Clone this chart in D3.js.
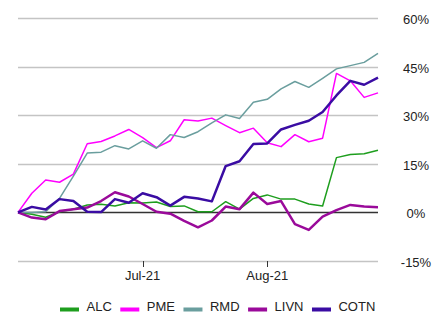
<!DOCTYPE html>
<html>
<head>
<meta charset="utf-8">
<script src="https://cdn.jsdelivr.net/npm/d3@7"></script>
<style>
	body {margin:0; background:#fff}
	svg {display:block; font-family:"Liberation Sans", Arial, sans-serif}
</style>
</head>
<body>
<svg width="448" height="313"></svg>
<script>
/*** Data ***/
var dates = [
	"2021-06-01","2021-06-04","2021-06-08","2021-06-11","2021-06-15","2021-06-18","2021-06-22","2021-06-25","2021-06-29",
	"2021-07-02","2021-07-06","2021-07-09","2021-07-13","2021-07-16","2021-07-20","2021-07-23","2021-07-27","2021-07-30",
	"2021-08-03","2021-08-06","2021-08-10","2021-08-13","2021-08-17","2021-08-20","2021-08-24","2021-08-27","2021-08-31"
]
var names  = ["ALC", "PME", "RMD", "LIVN", "COTN"]
var ALC  = [0, -0.6, -1.5, 0.2, 1.0, 2.3, 2.5, 2.0, 3.0, 2.9, 3.2, 1.8, 2.0, 0.2, 0.2, 3.3, 1.0, 4.3, 5.4, 4.1, 4.1, 2.6, 2.0, 16.9, 17.9, 18.1, 19.2]
var PME  = [0, 5.9, 10.0, 9.3, 11.8, 21.2, 21.9, 23.6, 25.6, 23.1, 20.0, 22.1, 28.6, 28.2, 29.1, 26.8, 24.6, 26.0, 21.5, 20.3, 24.0, 21.8, 22.9, 42.9, 40.6, 35.5, 36.9]
var RMD  = [0, 0, 0.2, 4.3, 11.2, 18.3, 18.6, 20.6, 19.6, 22.1, 19.8, 24.0, 23.1, 24.9, 27.6, 30.1, 29.0, 34.0, 34.9, 38.1, 40.4, 38.6, 41.4, 44.3, 45.3, 46.3, 49.1]
var LIVN = [0, -1.6, -2.1, 0.4, 1.0, 1.5, 3.5, 6.2, 4.9, 2.6, 0.2, -0.4, -2.6, -4.6, -2.5, 1.8, 1.0, 6.1, 2.6, 3.5, -3.6, -5.4, -1.3, 0.7, 2.3, 1.8, 1.6]
var COTN = [0, 1.7, 0.9, 4.1, 3.5, 0.2, 0.1, 4.1, 3.0, 5.9, 4.7, 2.1, 4.8, 4.3, 3.4, 14.3, 15.8, 21.1, 21.3, 25.6, 27.0, 28.3, 31.0, 36.1, 40.6, 39.4, 41.6]
var colors = ["#1e9e1e", "#ff00ff", "#6a9e9e", "#9a0a9a", "#3a0ca3"]
var widths = [1.5, 1.5, 1.5, 2.5, 2.5]
var yTicks = [-15, 0, 15, 30, 45, 60]

var series = [ALC, PME, RMD, LIVN, COTN]

/*** Setup ***/
var svg = d3.select("svg")
var parse = d3.timeParse("%Y-%m-%d")
var days = dates.map(parse)

var x = d3.scalePoint().domain(d3.range(days.length)).range([18, 378])
var y = d3.scaleLinear().domain([-15, 60]).range([261, 18])

// first data point of each month gets a tick
var monthTicks = d3.range(days.length).filter((i) => i > 0 && days[i].getMonth() != days[i-1].getMonth())

svg.append("g")
	.selectAll("line")
	.data(yTicks.filter((t) => t != 0))
	.enter()
	.append("line")
	.attr("x1", 18).attr("x2", 378)
	.attr("y1", (d) => Math.round(y(d)) + .5)
	.attr("y2", (d) => Math.round(y(d)) + .5)
	.attr("stroke", "#c4c4c4")
	.attr("stroke-width", 1.5)

svg.append("line")
	.attr("x1", 18).attr("x2", 378)
	.attr("y1", y(0)).attr("y2", y(0))
	.attr("stroke", "#333")
	.attr("stroke-width", 1.5)

svg.append("g")
	.selectAll("text")
	.data(yTicks)
	.enter()
	.append("text")
	.attr("x", 416)
	.attr("y", (d) => y(d) + 6)
	.attr("text-anchor", "middle")
	.attr("font-size", 13)
	.attr("fill", "#222")
	.text((d) => d + "%")

var xa = svg.append("g").attr("transform", "translate(0,261)")
xa.selectAll("line")
	.data(monthTicks)
	.enter()
	.append("line")
	.attr("x1", (d) => Math.round(x(d)) + .5)
	.attr("x2", (d) => Math.round(x(d)) + .5)
	.attr("y1", 0).attr("y2", 6)
	.attr("stroke", "#333")
xa.selectAll("text")
	.data(monthTicks)
	.enter()
	.append("text")
	.attr("x", (d) => x(d))
	.attr("y", 19)
	.attr("text-anchor", "middle")
	.attr("font-size", 13)
	.attr("fill", "#222")
	.text((d) => d3.timeFormat("%b-%y")(days[d]))

/*** Lines ***/
var line = d3.line().x((d, i) => x(i)).y((d) => y(d))
svg.append("g")
	.selectAll("path")
	.data(series)
	.enter()
	.append("path")
	.attr("d", line)
	.attr("fill", "none")
	.attr("stroke", (d, i) => colors[i])
	.attr("stroke-width", (d, i) => widths[i])
	.attr("stroke-linejoin", "round")

/*** Legend ***/
var lg = svg.append("g").attr("transform", "translate(60,311)")
var lx = 0
names.forEach(
	(n, i) => {
		lg.append("rect")
			.attr("x", lx).attr("y", -3.5)
			.attr("width", 19).attr("height", 4)
			.attr("fill", colors[i])
		var t = lg.append("text")
			.attr("x", lx + 26.5).attr("y", 0)
			.attr("font-size", 13)
			.attr("fill", "#222")
			.text(n)
		lx += 26.5 + t.node().getComputedTextLength() + 8.5
	}
)
</script>
</body>
</html>
